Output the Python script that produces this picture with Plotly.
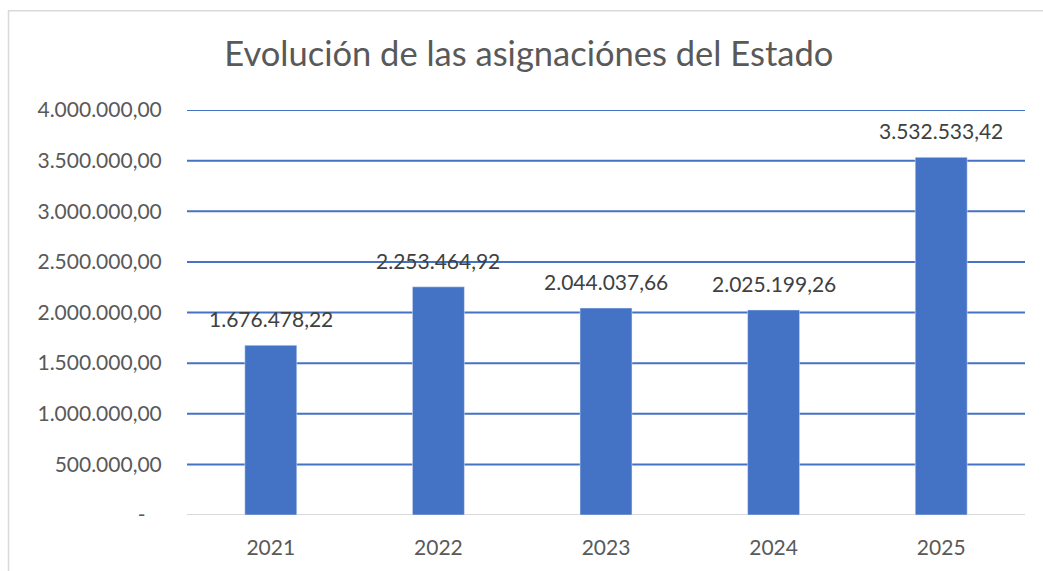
import plotly.graph_objects as go

years = ["2021", "2022", "2023", "2024", "2025"]
values = [1676478.22, 2253464.92, 2044037.66, 2025199.26, 3532533.42]
labels = ["1.676.478,22", "2.253.464,92", "2.044.037,66", "2.025.199,26", "3.532.533,42"]
tick_vals = [0, 500000, 1000000, 1500000, 2000000, 2500000, 3000000, 3500000, 4000000]
tick_text = ["-\u00a0\u00a0\u00a0", "500.000,00", "1.000.000,00", "1.500.000,00", "2.000.000,00",
             "2.500.000,00", "3.000.000,00", "3.500.000,00", "4.000.000,00"]

FONT = "Lato"
fig = go.Figure()
fig.add_trace(go.Bar(x=years, y=values, marker_color="#4472C4"))

# data labels (category index positions on the category axis)
for i, (y, t) in enumerate(zip(values, labels)):
    fig.add_annotation(x=i, y=y, xref="x", yref="y", text=t, showarrow=False,
                       yanchor="bottom", yshift=12,
                       font=dict(family=FONT, size=21, color="#404040"))

for v in tick_vals[1:]:
    fig.add_shape(type="line", xref="paper", x0=0, x1=1, yref="y", y0=v, y1=v,
                  line=dict(color="#4472C4", width=2), layer="below")
fig.add_shape(type="line", xref="paper", x0=0, x1=1, yref="y", y0=0, y1=0,
              line=dict(color="#D9D9D9", width=2), layer="below")

# chart border
fig.add_shape(type="rect", xref="paper", yref="paper", x0=-0.213, x1=1.1, y0=-0.2, y1=1.245,
              line=dict(color="#D9D9D9", width=1.5))

fig.update_layout(
    width=1043, height=571,
    margin=dict(l=187, r=18, t=110, b=56, autoexpand=False),
    paper_bgcolor="white", plot_bgcolor="white",
    bargap=0.69,
    showlegend=False,
    title=dict(text="Evolución de las asignaciónes del Estado", x=0.507, xanchor="center",
               y=0.905, yanchor="middle",
               font=dict(family=FONT, size=34.5, color="#595959")),
    xaxis=dict(type="category", range=[-0.5, len(years) - 0.5], autorange=False,
               showgrid=False, showline=False, zeroline=False,
               ticks="outside", ticklen=14, tickcolor="rgba(0,0,0,0)",
               tickfont=dict(family=FONT, size=21, color="#595959")),
    yaxis=dict(range=[0, 4000000], autorange=False, tickvals=tick_vals, ticktext=tick_text,
               showgrid=False, zeroline=False, showline=False,
               ticks="outside", ticklen=20, tickcolor="rgba(0,0,0,0)",
               tickfont=dict(family=FONT, size=21, color="#595959")),
)

fig.write_html("out.html", config={"displayModeBar": False},
               post_script="document.body.style.margin='0';")
